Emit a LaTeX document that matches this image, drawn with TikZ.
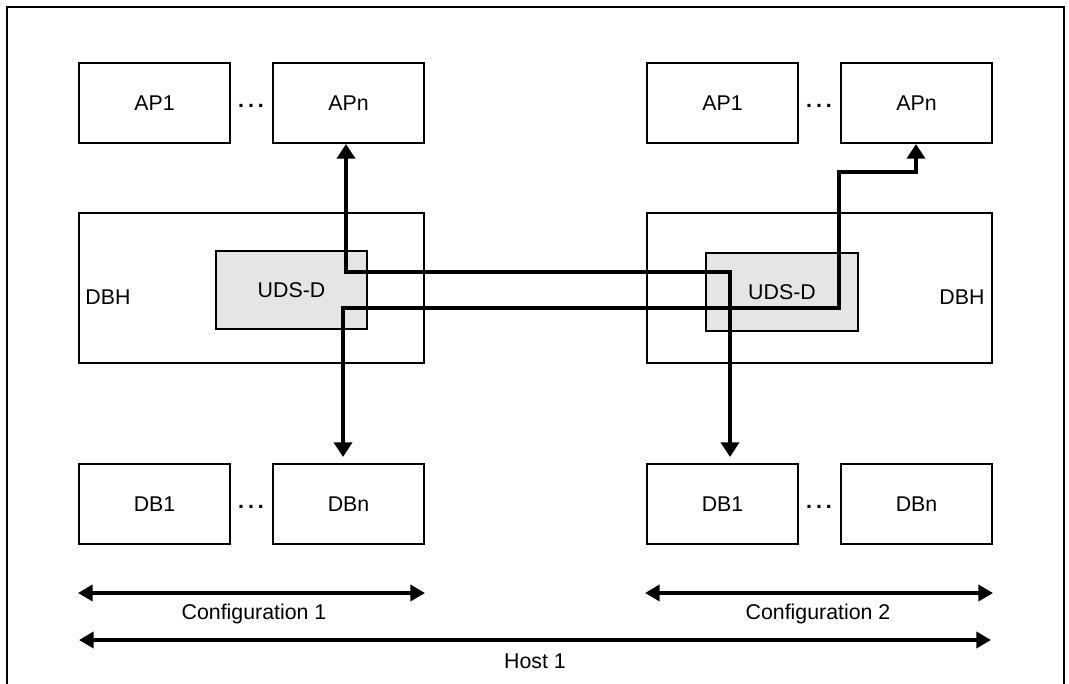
\documentclass[tikz,border=0pt]{standalone}
\usepackage{fontspec}
\setmainfont{Liberation Sans}
\usetikzlibrary{arrows.meta,calc}
\newdimen\unitpx \unitpx=0.75pt
\newcommand\mydots{\textbf{.\kern3pt.\kern3pt.}}
\begin{document}
\begin{tikzpicture}[x=0.75pt,y=-0.75pt,
  txt/.style={font=\fontsize{16}{19}\selectfont,inner sep=0pt},
  box/.style={txt,draw,line width=1.5pt,anchor=north west,minimum width=151\unitpx,minimum height=80\unitpx},
  hostbox/.style={draw,line width=1.5pt,anchor=north west,minimum width=345\unitpx,minimum height=150\unitpx,inner sep=0pt},
  udsbox/.style={txt,draw,line width=1.5pt,fill=black!10,anchor=north west,minimum width=151\unitpx,minimum height=78\unitpx},
  conn/.style={line width=3pt,{Triangle[length=11pt,width=13.5pt]}-{Triangle[length=11pt,width=13.5pt]}},
  span/.style={line width=3pt,{Triangle[length=11pt,width=12pt]}-{Triangle[length=11pt,width=12pt]}}]
\useasboundingbox (0,0) rectangle (1069,684);
% frame
\draw[line width=1.2pt] (7,684) -- (7,7) -- (1064,7) -- (1064,684);
% configuration 1
\node[box] (ap1L) at (78,62) {AP1};
\node[box] (apnL) at (272,62) {APn};
\node[txt] (dotsAL) at (251,106) {\mydots};
\node[hostbox] (dbhL) at (78,212) {};
\node[txt] (dbhLt) at (108,297) {DBH};
\node[udsbox] (udsL) at (215,250) {UDS-D};
\node[box] (db1L) at (78,463) {DB1};
\node[box] (dbnL) at (272,463) {DBn};
\node[txt] (dotsDL) at (251,507) {\mydots};
% configuration 2
\node[box] (ap1R) at (646,62) {AP1};
\node[box] (apnR) at (840,62) {APn};
\node[txt] (dotsAR) at (819,106) {\mydots};
\node[hostbox] (dbhR) at (646,212) {};
\node[txt] (dbhRt) at (962,297) {DBH};
\node[udsbox,minimum width=152\unitpx] (udsR) at (705,252) {UDS-D};
\node[box] (db1R) at (646,463) {DB1};
\node[box] (dbnR) at (840,463) {DBn};
\node[txt] (dotsDR) at (819,507) {\mydots};
% connectors
\coordinate (a1) at (346,272);
\coordinate (a2) at (730,272);
\coordinate (b1) at (343,308);
\coordinate (b2) at (839,308);
\coordinate (b3) at (839,172);
\coordinate (b4) at (916,172);
\draw[conn,shorten >=4.5pt] (apnL.south -| a1) -- (a1) -- (a2) -- (db1R.north -| a2);
\draw[conn,shorten <=4.5pt] (dbnL.north -| b1) -- (b1) -- (b2) -- (b3) -- (b4) -- (apnR.south -| b4);
% spans
\coordinate (c1a) at (78,593);
\coordinate (c1b) at (425,593);
\coordinate (c2a) at (645,593);
\coordinate (c2b) at (993,593);
\coordinate (h1a) at (79,640);
\coordinate (h1b) at (991,640);
\draw[span] (c1a) -- (c1b);
\draw[span] (c2a) -- (c2b);
\draw[span] (h1a) -- (h1b);
\node[txt] (cfg1) at (254,614) {Configuration 1};
\node[txt] (cfg2) at (818,614) {Configuration 2};
\node[txt] (host) at (535,661) {Host 1};
\end{tikzpicture}
\end{document}
